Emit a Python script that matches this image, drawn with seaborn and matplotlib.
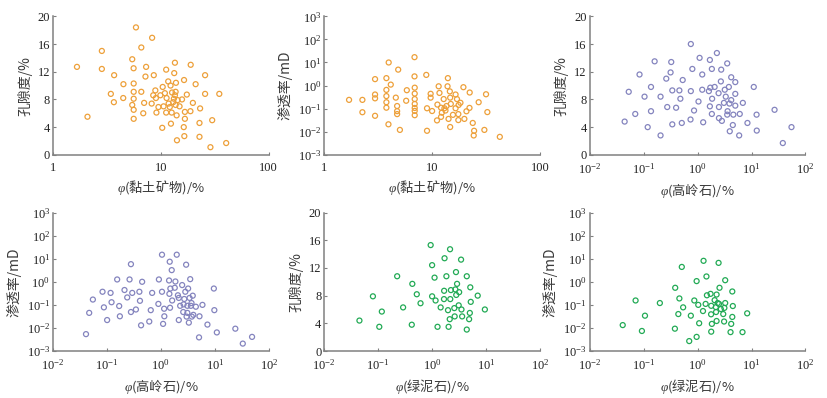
import seaborn as sns
import matplotlib.pyplot as plt
import matplotlib.ticker as mticker
import numpy as np

# clay minerals vs porosity
clay_x1 = [1.67, 2.09, 2.84, 2.84, 3.44, 3.67, 3.69, 4.48, 4.5, 5.43, 5.43, 5.59, 5.6, 5.6, 5.6, 5.6, 5.6,
           5.88, 6.59, 6.59, 6.87, 7.0, 7.2, 7.3, 8.22, 8.3, 8.5, 8.6, 8.89, 9.0, 9.1, 9.5, 9.9, 10.3,
           10.4, 10.6, 10.9, 11.2, 11.2, 11.3, 11.7, 11.8, 12.1, 12.3, 12.4, 12.6, 12.7, 13.0, 13.2,
           13.3, 13.5, 13.5, 13.7, 13.7, 13.8, 14.0, 14.1, 14.3, 14.9, 15.7, 16.3, 16.4, 16.5, 16.7,
           16.7, 17.4, 18.8, 18.9, 19.8, 21.0, 22.8, 22.8, 23.1, 25.7, 25.7, 28.8, 29.9, 34.8, 40.3]
clay_por = [12.7, 5.5, 15.0, 12.4, 8.8, 7.6, 11.5, 8.2, 10.2, 13.8, 7.2, 12.5, 10.3, 9.1, 8.1, 6.5, 5.2,
            18.4, 15.5, 9.1, 6.0, 7.5, 11.3, 12.7, 7.4, 16.9, 8.6, 11.5, 9.3, 8.2, 6.1, 6.9, 8.6, 3.9,
            9.8, 7.0, 8.9, 12.3, 6.1, 8.2, 10.6, 7.4, 6.9, 10.0, 4.5, 6.1, 9.0, 7.6, 8.1,
            11.8, 13.3, 8.6, 9.1, 7.2, 10.4, 5.7, 2.1, 7.9, 7.0, 8.0, 4.0, 10.8, 2.7, 6.2,
            5.2, 8.7, 6.3, 13.0, 7.5, 10.2, 4.6, 2.6, 6.7, 11.5, 8.8, 1.1, 5.0, 8.8, 1.7]

# clay minerals vs permeability
clay_x2 = [1.70, 2.26, 2.26, 2.96, 2.96, 2.96, 2.96, 3.77, 3.77, 3.77, 3.77, 3.77, 3.94, 3.96, 4.14,
           4.61, 4.74, 4.74, 4.74, 4.85, 5.03, 5.83, 5.75, 6.87, 6.87, 6.9, 6.9, 6.9, 6.9, 6.9, 6.9,
           6.9, 8.83, 8.97, 8.97, 9.69, 9.69, 10.0, 11.1, 11.2, 11.5, 11.7, 12.1, 12.1, 12.3, 12.8,
           13.0, 13.3, 13.6, 13.9, 14.0, 14.2, 14.6, 14.7, 14.7, 14.9, 15.6, 16.5, 16.5, 17.0, 17.5,
           17.5, 17.6, 18.3, 19.5, 19.9, 20.8, 22.2, 22.3, 23.8, 24.5, 24.3, 27.0, 30.5, 31.6, 32.5, 42.4]
clay_perm = [0.24, 0.24, 0.07, 1.9, 0.41, 0.28, 0.049, 2.1, 0.65, 0.35, 0.19, 0.11, 0.021, 10, 1.1,
             0.30, 0.13, 0.078, 0.058, 4.9, 0.012, 0.63, 0.22, 17, 2.5, 0.81, 0.45, 0.26, 0.16, 0.107, 0.080,
             0.052, 2.9, 0.104, 0.011, 0.44, 0.30, 0.079, 0.031, 0.15, 0.93, 0.48, 0.11, 0.044, 0.067, 0.26,
             0.104, 0.083, 0.13, 0.93, 2.1, 0.036, 0.56, 0.30, 0.016, 0.16, 0.054, 0.104, 0.41, 0.26, 0.058,
             0.032, 0.145, 0.18, 0.85, 0.036, 0.077, 0.108, 0.50, 0.024, 0.011, 0.0069, 0.19, 0.012, 0.42,
             0.071, 0.006]

# kaolinite vs porosity
kao_x1 = [0.0445, 0.053, 0.070, 0.084, 0.104, 0.119, 0.137, 0.137, 0.16, 0.206, 0.206, 0.263, 0.274,
          0.316, 0.325, 0.34, 0.34, 0.40, 0.46, 0.48, 0.51, 0.53, 0.74, 0.75, 0.75, 0.80, 0.86, 1.04,
          1.09, 1.22, 1.22, 1.27, 1.62, 1.69, 1.72, 1.69, 1.84, 1.84, 1.86, 2.07, 2.28, 2.45, 2.49,
          2.49, 2.74, 2.7, 2.82, 3.08, 3.19, 3.33, 3.54, 3.54, 3.6, 3.8, 3.9, 3.95, 4.2, 4.2, 4.5, 4.6,
          5.0, 5.0, 5.0, 5.9, 6.05, 6.9, 8.4, 11.0, 12.4, 12.5, 26.7, 38, 55]
kao_por = [4.8, 9.1, 5.9, 11.6, 8.4, 4.0, 9.8, 6.3, 13.5, 8.4, 2.8, 11.0, 6.9,
           11.9, 13.4, 9.3, 4.4, 6.8, 9.3, 8.1, 4.6, 10.8, 5.1, 16.0, 9.2, 12.4, 6.4, 7.7,
           14.0, 11.6, 9.4, 4.7, 9.2, 13.7, 9.7, 7.0, 12.4, 5.9, 8.1, 9.8, 14.7, 8.9, 6.9,
           5.3, 12.3, 10.6, 4.9, 7.5, 9.4, 8.4, 13.2, 5.8, 6.3, 9.8, 7.4, 3.4, 11.2, 7.9, 4.3, 5.8,
           10.5, 8.8, 7.1, 2.8, 5.9, 7.5, 4.6, 9.8, 5.8, 3.5, 6.5, 1.7, 4.0]

# kaolinite vs permeability
kao_x2 = [0.041, 0.047, 0.055, 0.083, 0.088, 0.101, 0.117, 0.122, 0.155, 0.169, 0.174, 0.212, 0.238,
          0.263, 0.279, 0.279, 0.295, 0.345, 0.40, 0.41, 0.43, 0.45, 0.61, 0.65, 0.69, 0.90, 0.92, 1.05,
          1.05, 1.10, 1.15, 1.16, 1.42, 1.44, 1.46, 1.48, 1.5, 1.59, 1.62, 1.81, 1.86, 1.97, 2.07, 2.15,
          2.15, 2.28, 2.48, 2.6, 2.64, 2.72, 2.84, 2.94, 3.0, 3.1, 3.1, 3.2, 3.3, 3.4, 3.5, 3.6, 3.7,
          3.75, 3.9, 4.0, 4.45, 5.1, 5.2, 5.9, 7.3, 9.6, 9.8, 10.9, 24, 33, 49]
kao_perm = [0.0054, 0.045, 0.17, 0.37, 0.078, 0.022, 0.33, 0.13, 1.26, 0.089, 0.032, 0.44, 0.21,
            1.26, 5.8, 0.049, 0.33, 0.063, 0.37, 0.15, 0.013, 1.0, 0.019, 0.059, 0.33, 0.11, 1.26, 14.9,
            0.37, 0.015, 0.068, 0.032, 1.14, 0.30, 7.4, 0.075, 0.51, 3.2, 0.155, 0.55, 1.03, 14.9, 0.26, 0.022,
            0.20, 0.091, 0.72, 0.049, 0.105, 0.18, 0.37, 5.5, 0.031, 0.091, 0.045, 0.51, 0.017, 0.20, 1.3,
            0.091, 0.12, 0.031, 0.25, 0.037, 0.083, 0.0039, 0.032, 0.10, 0.014, 0.51, 0.059, 0.0064, 0.0093,
            0.0021, 0.0041]

# chlorite vs porosity
chl_x1 = [0.045, 0.080, 0.105, 0.117, 0.225, 0.29, 0.42, 0.43, 0.52, 0.61, 0.94, 1.0, 1.0, 1.11, 1.16,
          1.26, 1.44, 1.66, 1.67, 1.70, 1.84, 1.97, 2.02, 2.12, 2.15, 2.17, 2.23, 2.58, 2.62, 2.7, 2.77,
          2.8, 2.9, 3.11, 3.17, 3.44, 3.5, 3.6, 4.39, 4.39, 4.85, 5.0, 5.1, 5.2, 7.0, 9.5]
chl_por = [4.4, 7.9, 3.5, 5.7, 10.8, 6.3, 3.8, 9.7, 8.2, 6.9, 15.3, 12.4, 7.9, 10.6, 7.3,
           3.5, 6.3, 7.5, 8.7, 13.4, 10.8, 5.9, 3.5, 4.6, 14.7, 7.5, 8.8, 6.2, 5.0, 8.9, 11.4,
           8.1, 9.7, 6.6, 8.5, 13.2, 6.0, 5.0, 10.8, 3.1, 4.6, 5.5, 9.2, 7.1, 8.0, 6.0]

# chlorite vs permeability
chl_x2 = [0.041, 0.071, 0.093, 0.106, 0.20, 0.38, 0.385, 0.44, 0.46, 0.51, 0.54, 0.70, 0.75, 0.87, 0.96,
          0.96, 1.03, 1.07, 1.26, 1.29, 1.41, 1.46, 1.49, 1.74, 1.78, 1.79, 1.79, 1.84, 2.07, 2.18, 2.2,
          2.25, 2.25, 2.36, 2.45, 2.5, 2.55, 2.7, 2.99, 3.1, 3.14, 3.25, 3.25, 4.08, 4.2, 4.4, 4.4, 4.5,
          6.8, 8.3]
chl_perm = [0.0133, 0.155, 0.0074, 0.034, 0.12, 0.0093, 0.55, 0.040, 0.19, 4.4, 0.078, 0.0027, 0.034,
            0.155, 1.07, 0.0041, 0.10, 0.016, 0.054, 8.1, 0.11, 1.7, 0.26, 0.30, 0.039, 0.0069, 0.091,
            0.015, 0.16, 0.080, 0.049, 0.28, 0.020, 0.12, 6.6, 0.11, 0.55, 0.066, 0.040, 0.019, 0.074,
            1.17, 0.12, 0.0066, 0.015, 0.030, 0.38, 0.089, 0.0066, 0.043]

orange = "#EDA03A"
purple = "#8484BE"
green = "#22AA55"

sns.set_style("ticks")
plt.rcParams['font.family'] = ['Liberation Serif', 'Noto Sans CJK SC']
plt.rcParams['mathtext.fontset'] = 'custom'
plt.rcParams['mathtext.rm'] = 'Liberation Serif'
plt.rcParams['mathtext.it'] = 'Liberation Serif:italic'

fig = plt.figure(figsize=(8.27, 3.98), dpi=100)

lefts = [0.064, 0.392, 0.713]
bottoms = [0.611, 0.118]
w, h = 0.261, 0.348

panels = [
    (clay_x1, clay_por, orange, "por", (1, 100), r"$\varphi$(黏土矿物)/%"),
    (clay_x2, clay_perm, orange, "perm", (1, 100), r"$\varphi$(黏土矿物)/%"),
    (kao_x1, kao_por, purple, "por", (0.01, 100), r"$\varphi$(高岭石)/%"),
    (kao_x2, kao_perm, purple, "perm", (0.01, 100), r"$\varphi$(高岭石)/%"),
    (chl_x1, chl_por, green, "por", (0.01, 100), r"$\varphi$(绿泥石)/%"),
    (chl_x2, chl_perm, green, "perm", (0.01, 100), r"$\varphi$(绿泥石)/%"),
]

cjk = 'Noto Sans CJK SC'

for i, (xs, ys, c, kind, xlim, xlabel) in enumerate(panels):
    r, col = divmod(i, 3)
    ax = fig.add_axes([lefts[col], bottoms[r], w, h])
    sns.scatterplot(x=xs, y=ys, ax=ax, marker='o', s=13, facecolor='none',
                    edgecolor=c, linewidth=0.9)
    ax.set_xscale('log')
    ax.set_xlim(*xlim)
    if xlim[0] == 1:
        ax.set_xticks([1, 10, 100])
        ax.set_xticklabels(['1', '10', '100'])
    else:
        ax.set_xticks([0.01, 0.1, 1, 10, 100])
    ax.xaxis.set_minor_locator(mticker.NullLocator())
    if kind == "por":
        ax.set_ylim(0, 20)
        ax.set_yticks([0, 4, 8, 12, 16, 20])
        ax.set_ylabel("孔隙度/%", fontsize=10, color='#3a3a3a', family=cjk)
    else:
        ax.set_yscale('log')
        ax.set_ylim(1e-3, 1e3)
        ax.set_yticks([1e-3, 1e-2, 1e-1, 1, 10, 100, 1000])
        ax.yaxis.set_minor_locator(mticker.NullLocator())
        ax.set_ylabel("渗透率/mD", fontsize=10, color='#3a3a3a', family=cjk)
    ax.set_xlabel(xlabel, fontsize=9.5, color='#3a3a3a', family=cjk, labelpad=3)
    for s in ['top', 'right']:
        ax.spines[s].set_visible(False)
    for s in ['left', 'bottom']:
        ax.spines[s].set_color('#808080')
        ax.spines[s].set_linewidth(1.1)
    ax.tick_params(direction='in', length=2.5, width=0.8, color='#808080',
                   labelsize=9, labelcolor='#222222', pad=2)
    ax.tick_params(axis='x', pad=5)

fig.savefig("out.png", dpi=100)
